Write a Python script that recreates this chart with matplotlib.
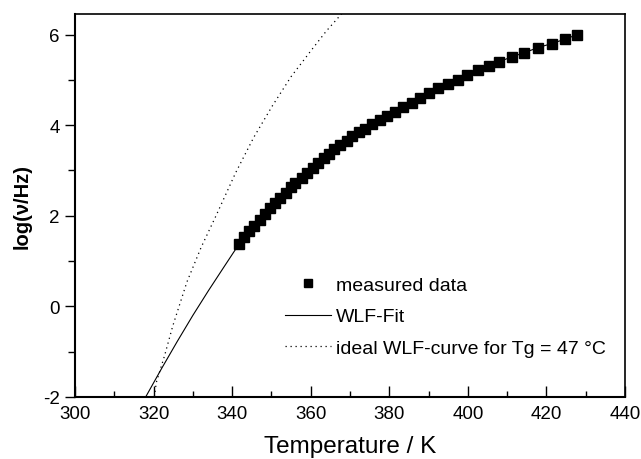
import matplotlib
matplotlib.use("Agg")
import matplotlib.pyplot as plt
from matplotlib.ticker import MultipleLocator

plt.rcParams['font.family'] = ['Liberation Sans', 'DejaVu Sans']
plt.rcParams['axes.unicode_minus'] = False

# measured data
T_meas = [341.8, 343.1, 344.2, 345.6, 347.2, 348.3, 349.6, 350.8, 352.2, 353.7,
          355.0, 356.0, 357.7, 359.1, 360.5, 361.8, 363.3, 364.6, 366.0, 367.4,
          369.3, 370.5, 372.2, 373.9, 375.7, 377.6, 379.4, 381.5, 383.6, 385.9,
          387.9, 390.2, 392.3, 395.0, 397.5, 399.9, 402.7, 405.4, 407.9, 411.3,
          414.4, 417.8, 421.3, 424.8, 427.9]
logf_meas = [1.38, 1.52, 1.66, 1.78, 1.90, 2.04, 2.17, 2.29, 2.39, 2.51,
             2.63, 2.72, 2.83, 2.95, 3.05, 3.16, 3.27, 3.36, 3.47, 3.56,
             3.66, 3.75, 3.84, 3.91, 4.02, 4.12, 4.21, 4.29, 4.41, 4.50,
             4.61, 4.70, 4.81, 4.90, 5.00, 5.10, 5.21, 5.30, 5.40, 5.51,
             5.60, 5.71, 5.80, 5.90, 6.00]

# WLF fit (lower part, below the data)
T_fit_low = [318.0, 322.0, 326.0, 330.0, 334.0, 338.0]
logf_fit_low = [-2.0, -1.38, -0.78, -0.20, 0.35, 0.88]

# ideal WLF curve for Tg = 47 °C
T_ideal = [320.2, 320.7, 322.8, 324.9, 328.5, 332.1, 335.9, 340.9, 345.5,
           350.2, 355.0, 360.3, 364.0, 368.2]
logf_ideal = [-2.0, -1.68, -1.09, -0.43, 0.54, 1.30, 2.00, 2.95, 3.73,
              4.42, 5.07, 5.67, 6.08, 6.49]

fig = plt.figure(figsize=(6.41, 4.60), dpi=100)
ax = fig.add_axes([0.117, 0.135, 0.858, 0.832])

ax.plot(T_meas, logf_meas, 's', color='black', markersize=6.5, label='measured data', zorder=3)
ax.plot(T_fit_low + T_meas, logf_fit_low + logf_meas, '-', color='black', lw=0.8,
        label='WLF-Fit', zorder=2)
ax.plot(T_ideal, logf_ideal, color='black', lw=0.9, linestyle=(0, (1, 3)),
        label='ideal WLF-curve for Tg = 47 °C', zorder=2)

ax.set_xlim(300, 440)
ax.set_ylim(-2, 6.45)
ax.xaxis.set_major_locator(MultipleLocator(20))
ax.xaxis.set_minor_locator(MultipleLocator(10))
ax.yaxis.set_major_locator(MultipleLocator(2))
ax.yaxis.set_minor_locator(MultipleLocator(1))

ax.tick_params(axis='x', which='major', direction='in', length=8, width=1, labelsize=13.5, pad=5.5)
ax.tick_params(axis='x', which='minor', direction='in', length=4, width=1)
ax.tick_params(axis='y', which='major', direction='out', length=7, width=1, labelsize=13.5, pad=4)
ax.tick_params(axis='y', which='minor', direction='out', length=5, width=1)

for s in ['left', 'bottom']:
    ax.spines[s].set_linewidth(1.5)
for s in ['top', 'right']:
    ax.spines[s].set_linewidth(1.2)

ax.set_xlabel('Temperature / K', fontsize=17.5, labelpad=10)
ax.set_ylabel('log(ν/Hz)', fontsize=14.5, fontweight='bold', labelpad=8)

ax.legend(loc='upper left', bbox_to_anchor=(0.381, 0.315), frameon=False, fontsize=14,
          handlelength=2.4, handletextpad=0.26, labelspacing=0.71, borderaxespad=0,
          borderpad=0, markerscale=0.8)

fig.savefig('out.png', dpi=100)
